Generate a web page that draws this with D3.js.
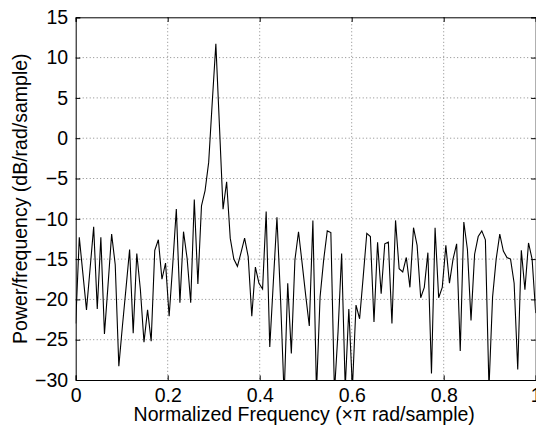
<!DOCTYPE html>
<html>
<head>
<meta charset="utf-8">
<script src="https://cdn.jsdelivr.net/npm/d3@7"></script>
<style>
  body { margin: 0; background: #fff; }
  svg { display: block; }
  text { font-family: "Liberation Sans", Arial, Helvetica, sans-serif; }
</style>
</head>
<body>
<div id="chart"></div>
<script>
// periodogram estimate, 129 bins from 0 to 1 (x pi rad/sample), dB/rad/sample
const psd = [
  -23, -12.3, -16.8, -21.3, -16.2, -11.0, -21.2, -12.3, -24.3, -18.2,
  -11.9, -15.7, -28.3, -23.3, -18.6, -13.8, -24.2, -14.3, -18.8, -25.3,
  -21.3, -25.2, -13.9, -12.6, -17.5, -15.5, -22.1, -15.7, -8.8, -20.4,
  -11.6, -14.9, -20.4, -7.6, -18.1, -8.4, -6.5, -3, 4.5, 11.7,
  1.5, -8.8, -5.4, -12.4, -15.0, -15.9, -14.2, -12.4, -14.7, -22.1,
  -16.0, -18.0, -18.7, -9.1, -25.9, -17.8, -9.8, -19.9, -32, -18.0,
  -26.7, -15.1, -11.6, -15.5, -19.5, -23.3, -10.2, -31.5, -19.7, -15.1,
  -11.5, -11.7, -31.5, -24, -14.3, -31, -21.2, -31, -20.7, -22.4,
  -17.2, -11.8, -12.2, -22.8, -12.9, -19.3, -13.1, -12.9, -23.0, -10.2,
  -16.2, -16.6, -14.8, -18.5, -11.1, -13.3, -19.8, -18.5, -14.2, -29.2,
  -11.1, -19.8, -18.5, -13.3, -18.0, -15.0, -13.1, -26.4, -10.4, -13.8,
  -22.6, -14.4, -12.2, -11.5, -12.6, -31, -19.7, -15.0, -11.9, -14.0,
  -14.8, -15.0, -18.0, -28.7, -13.9, -18.8, -13.0, -15.0, -21.7
];
const freq = psd.map((d, i) => i / (psd.length - 1));

const xTicks = [0, 0.2, 0.4, 0.6, 0.8, 1];
const xTickLabels = ["0", "0.2", "0.4", "0.6", "0.8", "1"];
const yTicks = [-30, -25, -20, -15, -10, -5, 0, 5, 10, 15];

const xLabel = "Normalized Frequency (\u00d7\u03c0 rad/sample)";
const yLabel = "Power/frequency (dB/rad/sample)";

const W = 536, H = 428;
const m = { left: 75.7, top: 17.3, right: 0.3, bottom: 48 };
const iw = W - m.left - m.right, ih = 380 - m.top;

const x = d3.scaleLinear().domain([0, 1]).range([0, iw]);
const y = d3.scaleLinear().domain([-30, 15]).range([ih, 0]);

const svg = d3.select("#chart").append("svg")
  .attr("width", W)
  .attr("height", H);

const g = svg.append("g").attr("transform", `translate(${m.left},${m.top})`);

g.append("clipPath").attr("id", "clip")
  .append("rect").attr("width", iw).attr("height", ih);

// dotted grid
g.append("g").selectAll("line")
  .data(xTicks.slice(1, -1))
  .join("line")
  .attr("x1", d => x(d)).attr("x2", d => x(d))
  .attr("y1", 0).attr("y2", ih)
  .attr("stroke", "#888").attr("stroke-dasharray", "1,2.5");

g.append("g").selectAll("line")
  .data(yTicks.slice(1, -1))
  .join("line")
  .attr("x1", 0).attr("x2", iw)
  .attr("y1", d => y(d)).attr("y2", d => y(d))
  .attr("stroke", "#888").attr("stroke-dasharray", "1,2.5");

// the curve
const line = d3.line()
  .x((d, i) => x(freq[i]))
  .y(d => y(d));

g.append("path")
  .datum(psd)
  .attr("clip-path", "url(#clip)")
  .attr("fill", "none")
  .attr("stroke", "#000")
  .attr("stroke-width", 1.1)
  .attr("stroke-linejoin", "miter")
  .attr("d", line);

// axes, ticks inward on all four sides
const tl = 4.6;
const xb = g.append("g").attr("transform", `translate(0,${ih})`)
  .call(d3.axisBottom(x).tickValues(xTicks).tickSize(-tl).tickPadding(tl + 4)
    .tickFormat((d, i) => xTickLabels[i]));
const xt = g.append("g")
  .call(d3.axisTop(x).tickValues(xTicks).tickSize(-tl).tickFormat(""));
const yl = g.append("g")
  .call(d3.axisLeft(y).tickValues(yTicks).tickSize(-tl).tickPadding(tl + 3));
const yr = g.append("g").attr("transform", `translate(${iw},0)`)
  .call(d3.axisRight(y).tickValues(yTicks).tickSize(-tl).tickFormat(""));

[xb, xt, yl, yr].forEach(a => {
  a.select(".domain").attr("stroke", "#000").attr("stroke-width", 1);
  a.selectAll(".tick line").attr("stroke", "#000");
  a.selectAll("text").attr("fill", "#000").style("font-size", "19.5px");
});
xb.selectAll("text").attr("dy", "0.71em");

svg.append("text")
  .attr("x", m.left + iw / 2 - 1.5)
  .attr("y", 420.5)
  .attr("text-anchor", "middle")
  .style("font-size", "19.5px")
  .text(xLabel);

svg.append("text")
  .attr("transform", `translate(27,${m.top + ih / 2}) rotate(-90)`)
  .attr("text-anchor", "middle")
  .style("font-size", "19.5px")
  .text(yLabel);
</script>
</body>
</html>
